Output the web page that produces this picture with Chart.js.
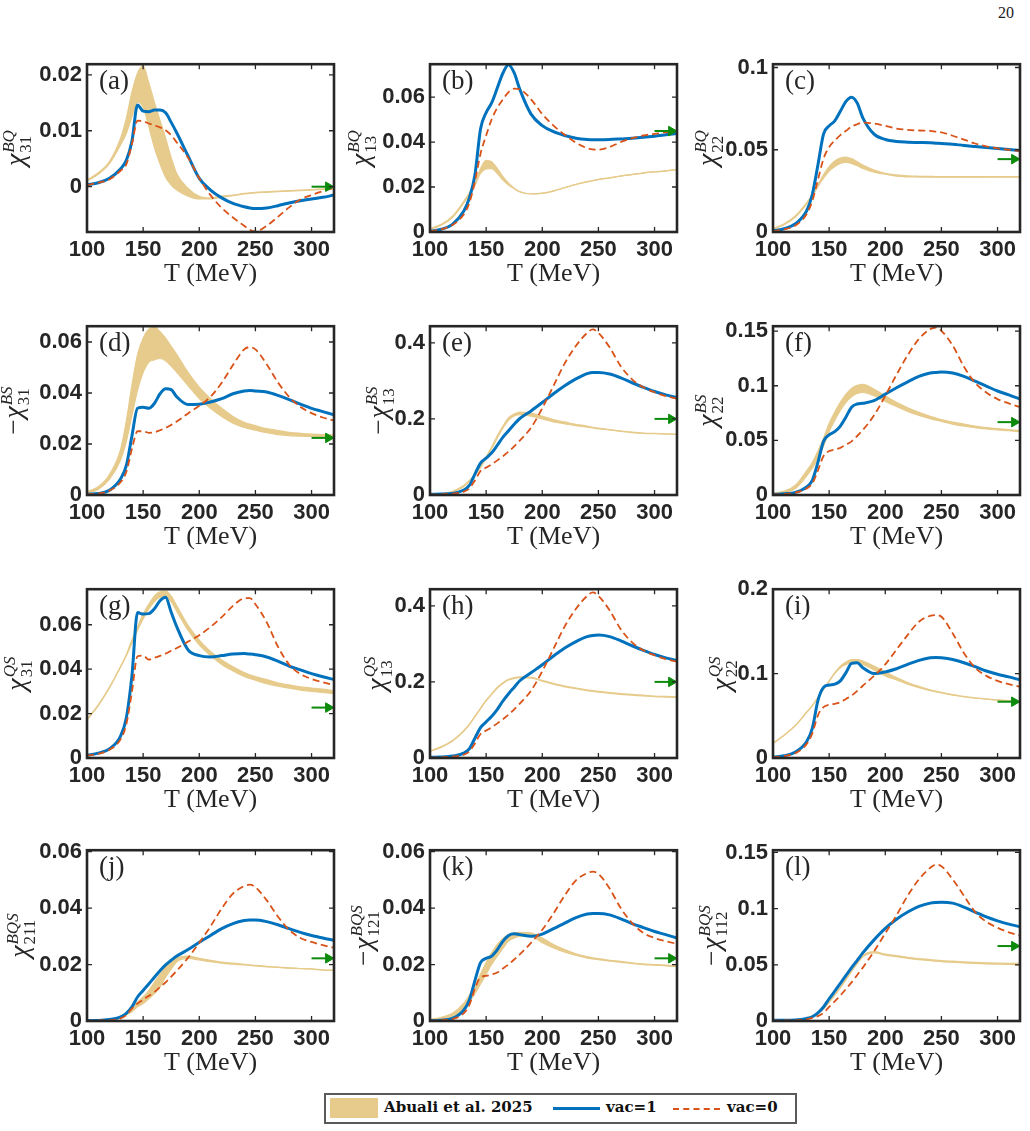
<!DOCTYPE html>
<html>
<head>
<meta charset="utf-8">
<script src="https://cdn.jsdelivr.net/npm/chart.js@4.4.1/dist/chart.umd.min.js"></script>
<style>
  body { margin: 0; background: #fff; }
  #page { position: relative; width: 1030px; height: 1131px; background: #fff; overflow: hidden; }
  #page canvas { position: absolute; }
  #pageno { position: absolute; left: 998px; top: 4px; font: 16px 'Liberation Serif', serif; color: #222; }
  #legend { position: absolute; left: 324px; top: 1093px; width: 469px; height: 27px; border: 2px solid #5a5a5a; background: #fff; }
  #legend span { position: absolute; }
  #legend .txt { top: 3px; font: bold 15px 'DejaVu Serif', serif; color: #111; white-space: nowrap; }
</style>
</head>
<body>
<div id="page">
  <div id="pageno">20</div>
  <div id="legend">
    <span style="left:4px;top:3px;width:48px;height:20px;background:#E6CB8C"></span>
    <span class="txt" style="left:58px">Abuali et al. 2025</span>
    <span style="left:227px;top:12px;width:47px;border-top:3px solid #0072BD"></span>
    <span class="txt" style="left:280px">vac=1</span>
    <span style="left:347px;top:13px;width:47px;border-top:2px dashed #D95319"></span>
    <span class="txt" style="left:401px">vac=0</span>
  </div>
</div>
<script>
// temperature grid (MeV) and tick labels
const T = [100,110,120,130, 135,140,145,150,155, 160,165,170,175,180, 190,200,210,220,230, 240,245,250,260,270, 280,290,300,310,320];
const xTicks = [100, 150, 200, 250, 300];

// (a) chi31^BQ
const bandHiA = [0.0012,0.0025,0.0045,0.0087, 0.0122,0.0169,0.0203,0.0216,0.0186, 0.0151,0.0119,0.0087,0.0052,0.0023, -0.0003,-0.0017,-0.002,-0.0017,-0.0015, -0.0012,-0.0011,-0.001,-0.0009,-0.0008, -0.0007,-0.0006,-0.0005,-0.0004,-0.0003];
const bandLoA = [0.001,0.0022,0.0041,0.0075, 0.0095,0.0125,0.0151,0.0142,0.0108, 0.007,0.0041,0.0017,0.0003,-0.0006, -0.0017,-0.0022,-0.0022,-0.0019,-0.0016, -0.0013,-0.0012,-0.0011,-0.001,-0.0009, -0.0008,-0.0007,-0.0006,-0.0005,-0.0004];
const vac1A = [0.0003,0.0007,0.0015,0.0032, 0.0047,0.0081,0.0146,0.0135,0.0134, 0.0137,0.0137,0.0132,0.0115,0.0096, 0.0055,0.0015,-0.0006,-0.002,-0.003, -0.0036,-0.0038,-0.0039,-0.0038,-0.0034, -0.0029,-0.0025,-0.0022,-0.0019,-0.0015];
const vac0A = [0.0003,0.0007,0.0013,0.0029, 0.004,0.0076,0.0118,0.0117,0.0113, 0.011,0.0106,0.0101,0.0092,0.0079, 0.0052,0.0015,-0.0015,-0.0038,-0.0055, -0.007,-0.0077,-0.008,-0.007,-0.0054, -0.0037,-0.0023,-0.0015,-0.0008,-0.0002];

// (b) chi13^BQ
const bandHiB = [0.0016,0.0034,0.007,0.0136, 0.0173,0.0217,0.0282,0.0319,0.0312, 0.0282,0.0246,0.0217,0.0195,0.018, 0.017,0.0173,0.0183,0.0198,0.0212, 0.0224,0.0229,0.0234,0.0241,0.0249, 0.0256,0.0263,0.0268,0.0272,0.0278];
const bandLoB = [0.0012,0.003,0.0064,0.0128, 0.0164,0.0206,0.026,0.028,0.0282, 0.026,0.0231,0.0209,0.0192,0.0178, 0.0169,0.0172,0.0182,0.0197,0.0211, 0.0223,0.0228,0.0233,0.024,0.0248, 0.0255,0.0262,0.0267,0.0271,0.0277];
const vac1B = [0.0004,0.0012,0.0034,0.0092, 0.015,0.0253,0.0458,0.0531,0.0575, 0.0641,0.0707,0.0743,0.0707,0.0634, 0.0524,0.0473,0.0446,0.0429,0.0417, 0.0411,0.041,0.041,0.0411,0.0414, 0.0417,0.0421,0.0426,0.0432,0.0438];
const vac0B = [0.0004,0.0012,0.0031,0.0078, 0.0129,0.0224,0.0348,0.0429,0.0502, 0.0553,0.059,0.0622,0.0637,0.0634, 0.059,0.0524,0.0473,0.0432,0.0397, 0.0373,0.0367,0.0366,0.0378,0.04, 0.0417,0.0429,0.0436,0.0443,0.0449];

// (c) chi22^BQ
const bandHiC = [0.002,0.005,0.0099,0.0179, 0.0228,0.0288,0.0347,0.0397,0.0431, 0.045,0.0456,0.0446,0.0427,0.0407, 0.0377,0.0357,0.0347,0.0341,0.0339, 0.0338,0.0337,0.0337,0.0337,0.0337, 0.0337,0.0337,0.0337,0.0337,0.0337];
const bandLoC = [0.0016,0.0044,0.0091,0.0169, 0.0216,0.0276,0.0327,0.0371,0.0397, 0.0417,0.0423,0.0417,0.0403,0.0387, 0.0363,0.0351,0.0339,0.0335,0.0334, 0.0333,0.0333,0.0333,0.0333,0.0333, 0.0333,0.0333,0.0334,0.0334,0.0334];
const vac1C = [0.0006,0.002,0.005,0.0129, 0.0228,0.0407,0.0595,0.0645,0.0675, 0.0734,0.0794,0.0819,0.0784,0.0694, 0.0595,0.0562,0.055,0.0546,0.0544, 0.0542,0.054,0.0538,0.0534,0.0526, 0.052,0.0514,0.0508,0.0502,0.0496];
const vac0C = [0.0006,0.0016,0.004,0.0109, 0.0188,0.0317,0.0446,0.0516,0.0556, 0.0589,0.0615,0.0641,0.0655,0.0665, 0.0659,0.0645,0.0629,0.0621,0.0617, 0.0615,0.061,0.0605,0.0585,0.0562, 0.0538,0.052,0.0508,0.05,0.0492];

// (d) -chi31^BS
const bandHiD = [0.0013,0.0032,0.008,0.018, 0.029,0.043,0.055,0.0615,0.065, 0.0658,0.0641,0.0615,0.0583,0.0551, 0.0481,0.0423,0.0378,0.034,0.0308, 0.0285,0.0278,0.0272,0.026,0.0253, 0.0246,0.0242,0.0239,0.0237,0.0236];
const bandLoD = [0.0008,0.0022,0.0062,0.0138, 0.021,0.031,0.041,0.048,0.052, 0.053,0.0536,0.0526,0.0506,0.0481, 0.0429,0.0378,0.034,0.0308,0.0282, 0.0265,0.0259,0.0254,0.0244,0.0237, 0.0233,0.0231,0.023,0.0229,0.0227];
const vac1D = [0.0003,0.0006,0.0019,0.0064, 0.0115,0.0231,0.034,0.0344,0.034, 0.0359,0.0397,0.0417,0.0413,0.0385, 0.0355,0.0356,0.0365,0.0378,0.0397, 0.0408,0.041,0.0408,0.0404,0.0391, 0.0374,0.0356,0.034,0.0327,0.0314];
const vac0D = [0.0003,0.0006,0.0017,0.0051, 0.009,0.018,0.025,0.025,0.0244, 0.0246,0.0254,0.0263,0.0275,0.0288, 0.032,0.035,0.0385,0.044,0.051, 0.0571,0.058,0.0571,0.0513,0.0442, 0.0385,0.0346,0.0321,0.0304,0.0292];

// (e) -chi13^BS
const bandHiE = [0.002,0.004,0.01,0.025, 0.038,0.055,0.076,0.101,0.127, 0.156,0.181,0.203,0.213,0.218, 0.215,0.207,0.198,0.192,0.186, 0.181,0.178,0.176,0.172,0.168, 0.165,0.163,0.162,0.161,0.16];
const bandLoE = [0.001,0.0025,0.008,0.022, 0.035,0.052,0.072,0.097,0.122, 0.15,0.176,0.197,0.208,0.211, 0.207,0.2,0.192,0.187,0.182, 0.178,0.176,0.174,0.171,0.167, 0.164,0.162,0.161,0.16,0.159];
const vac1E = [0.002,0.0025,0.004,0.013, 0.025,0.055,0.084,0.097,0.111, 0.131,0.152,0.169,0.186,0.201, 0.221,0.243,0.266,0.287,0.305, 0.319,0.322,0.322,0.318,0.308, 0.295,0.283,0.272,0.263,0.256];
const vac0E = [0.001,0.0017,0.0034,0.0085, 0.017,0.038,0.063,0.072,0.081, 0.091,0.102,0.114,0.128,0.143, 0.177,0.228,0.287,0.346,0.392, 0.426,0.435,0.426,0.388,0.338, 0.304,0.283,0.27,0.26,0.253];

// (f) chi22^BS
const bandHiF = [0.0015,0.0036,0.0089,0.0223, 0.0298,0.0402,0.0521,0.0655,0.0759, 0.0848,0.0923,0.0976,0.1003,0.1012, 0.0967,0.0908,0.0848,0.0798,0.0756, 0.072,0.0705,0.069,0.0667,0.0649, 0.0631,0.0616,0.0607,0.0598,0.0589];
const bandLoF = [0.0009,0.0022,0.006,0.0175, 0.0245,0.0335,0.0446,0.058,0.0685, 0.0774,0.0848,0.0899,0.0929,0.0938, 0.0908,0.0857,0.081,0.0765,0.0729, 0.0699,0.0686,0.0673,0.0649,0.0631, 0.0616,0.0604,0.0595,0.0588,0.058];
const vac1F = [0.0006,0.0012,0.0024,0.0074, 0.0134,0.0298,0.0491,0.0551,0.058, 0.0631,0.0714,0.0804,0.0833,0.0839, 0.0863,0.0923,0.0982,0.1036,0.1086, 0.1116,0.1122,0.1125,0.1116,0.1086, 0.1042,0.0997,0.0952,0.0917,0.0878];
const vac0F = [0.0003,0.0009,0.0021,0.006, 0.0104,0.0223,0.0357,0.0402,0.0415, 0.0432,0.046,0.0491,0.054,0.0595, 0.0729,0.0908,0.1101,0.128,0.1429, 0.1518,0.1533,0.1503,0.1369,0.1176, 0.1027,0.0938,0.0878,0.0839,0.0804];

// (g) chi31^QS
const bandHiG = [0.0175,0.0239,0.0319,0.0414, 0.0465,0.0531,0.059,0.0648,0.0692, 0.0729,0.0748,0.0751,0.0729,0.0685, 0.0597,0.0531,0.048,0.0441,0.0411, 0.0385,0.0375,0.0367,0.0353,0.0338, 0.0329,0.032,0.0315,0.031,0.0304];
const bandLoG = [0.0171,0.0235,0.0315,0.041, 0.046,0.0517,0.0575,0.0626,0.067, 0.0704,0.0722,0.0722,0.0704,0.066, 0.0575,0.0509,0.0461,0.0421,0.0392, 0.0367,0.0358,0.035,0.0335,0.0323, 0.0315,0.0306,0.03,0.0295,0.029];
const vac1G = [0.0012,0.0022,0.0041,0.01, 0.018,0.037,0.0655,0.0648,0.065, 0.0672,0.0708,0.0724,0.0656,0.059, 0.0487,0.0461,0.0455,0.0461,0.0468, 0.047,0.0468,0.0465,0.0455,0.0436, 0.0414,0.0397,0.038,0.0366,0.0353];
const vac0G = [0.0011,0.0019,0.0037,0.0085, 0.0151,0.0297,0.0458,0.0461,0.0443, 0.0451,0.046,0.047,0.0483,0.0495, 0.0524,0.0553,0.059,0.0634,0.0685, 0.0719,0.072,0.0692,0.0612,0.0502, 0.0421,0.0378,0.0356,0.0341,0.0329];

// (h) chi13^QS
const bandHiH = [0.0186,0.03,0.046,0.072, 0.089,0.11,0.131,0.152,0.169, 0.186,0.198,0.207,0.211,0.213, 0.212,0.204,0.196,0.189,0.184, 0.179,0.177,0.175,0.172,0.169, 0.167,0.165,0.163,0.162,0.161];
const bandLoH = [0.0168,0.028,0.044,0.07, 0.087,0.108,0.129,0.15,0.167, 0.184,0.196,0.205,0.209,0.211, 0.21,0.202,0.194,0.187,0.182, 0.177,0.175,0.173,0.17,0.167, 0.165,0.163,0.161,0.16,0.159];
const vac1H = [0.002,0.0025,0.005,0.013, 0.024,0.052,0.08,0.095,0.11, 0.128,0.15,0.169,0.186,0.203, 0.224,0.245,0.268,0.289,0.306, 0.319,0.322,0.323,0.319,0.308, 0.295,0.283,0.272,0.263,0.256];
const vac0H = [0.001,0.0017,0.0034,0.0085, 0.017,0.038,0.063,0.072,0.081, 0.091,0.102,0.114,0.128,0.143, 0.177,0.228,0.287,0.346,0.392, 0.426,0.435,0.426,0.388,0.338, 0.304,0.283,0.27,0.26,0.253];

// (i) chi22^QS
const bandHiI = [0.0175,0.0272,0.0389,0.0545, 0.0623,0.072,0.0817,0.0914,0.1012, 0.1089,0.1136,0.1167,0.1167,0.1148, 0.1089,0.102,0.0953,0.0895,0.0848, 0.0809,0.0793,0.0778,0.075,0.073, 0.0712,0.07,0.0689,0.0681,0.0673];
const bandLoI = [0.0171,0.0268,0.0385,0.054, 0.0618,0.0715,0.0812,0.0909,0.1, 0.107,0.1109,0.1128,0.1128,0.1109, 0.1043,0.0973,0.0926,0.0875,0.0833, 0.0798,0.0784,0.077,0.0744,0.0725, 0.0708,0.0696,0.0685,0.0677,0.0669];
const vac1I = [0.0012,0.0027,0.007,0.0195, 0.035,0.068,0.0837,0.0864,0.0875, 0.0914,0.1012,0.1121,0.1128,0.107, 0.1,0.102,0.1058,0.1109,0.1156, 0.1187,0.119,0.1187,0.1167,0.1128, 0.1082,0.1031,0.0992,0.0961,0.0926];
const vac0I = [0.0008,0.0023,0.0058,0.0167, 0.0292,0.0506,0.0603,0.063,0.0642, 0.0661,0.07,0.0739,0.0795,0.0856, 0.0973,0.1109,0.1284,0.1459,0.1615, 0.1685,0.1693,0.1673,0.1479,0.1245, 0.107,0.0973,0.0914,0.0875,0.0844];

// (j) chi211^BQS
const bandHiJ = [0.0002,0.0004,0.0006,0.0015, 0.0027,0.0044,0.0067,0.0085,0.0108, 0.0137,0.0166,0.0195,0.0213,0.0224, 0.023,0.0222,0.0215,0.0209,0.0205, 0.0201,0.0199,0.0197,0.0194,0.0191, 0.0188,0.0186,0.0185,0.0181,0.018];
const bandLoJ = [0.0001,0.0002,0.0003,0.0009, 0.0021,0.0033,0.005,0.0062,0.0079, 0.0097,0.012,0.0155,0.0184,0.021, 0.0222,0.0216,0.021,0.0205,0.0201, 0.0199,0.0197,0.0195,0.0192,0.019, 0.0187,0.0185,0.0184,0.018,0.0179];
const vac1J = [0.0002,0.0002,0.0005,0.0015, 0.0027,0.005,0.0085,0.0108,0.0131, 0.0155,0.0178,0.0199,0.0215,0.023, 0.0253,0.0279,0.0303,0.0327,0.0345, 0.0356,0.0358,0.0358,0.0352,0.0341, 0.0327,0.0314,0.0303,0.0294,0.0286];
const vac0J = [0.0001,0.0002,0.0003,0.0009, 0.0021,0.0044,0.0062,0.0076,0.0089, 0.0102,0.012,0.0137,0.0157,0.0178, 0.0224,0.0277,0.0335,0.0399,0.0451, 0.0478,0.0483,0.0474,0.0428,0.037, 0.0323,0.0294,0.028,0.0269,0.0259];

// (k) -chi121^BQS
const bandHiK = [0.0006,0.0013,0.0027,0.0062, 0.0091,0.0126,0.0166,0.0207,0.0242, 0.0271,0.0292,0.0306,0.0312,0.0314, 0.0312,0.0294,0.0271,0.0253,0.0238, 0.0228,0.0224,0.0221,0.0215,0.0211, 0.0206,0.0202,0.02,0.0198,0.0195];
const bandLoK = [0.0002,0.0006,0.0015,0.0044, 0.0067,0.0097,0.0131,0.0166,0.0201, 0.023,0.0257,0.0283,0.0294,0.03, 0.03,0.0277,0.0259,0.0244,0.0233, 0.0223,0.022,0.0217,0.0212,0.0208, 0.0204,0.02,0.0198,0.0195,0.0193];
const vac1K = [0.0002,0.0003,0.0009,0.0038, 0.0073,0.0143,0.0207,0.0222,0.023, 0.0253,0.0283,0.0303,0.0309,0.0306, 0.03,0.0308,0.0327,0.0347,0.0366, 0.0379,0.0381,0.0381,0.0376,0.0362, 0.0345,0.0331,0.0317,0.0306,0.0294];
const vac0K = [0.0001,0.0003,0.0007,0.0027, 0.0056,0.0114,0.0155,0.016,0.0165, 0.0172,0.0186,0.0201,0.0218,0.0236, 0.0277,0.0323,0.0381,0.0445,0.0498, 0.0524,0.0529,0.0521,0.0469,0.0399, 0.0347,0.0312,0.0294,0.0283,0.0273];

// (l) -chi112^BQS
const bandHiL = [0.0004,0.0006,0.0012,0.0025, 0.0045,0.0072,0.0116,0.0174,0.0237, 0.0305,0.0376,0.0451,0.0518,0.0582, 0.0617,0.0596,0.0582,0.0567,0.0556, 0.0547,0.0542,0.0538,0.0532,0.0527, 0.0522,0.0518,0.0515,0.0513,0.0512];
const bandLoL = [0.0002,0.0004,0.0008,0.0018, 0.0035,0.0062,0.0106,0.0164,0.0227, 0.0295,0.0366,0.0441,0.0508,0.0572, 0.0607,0.0586,0.0572,0.0557,0.0546, 0.0537,0.0532,0.0528,0.0522,0.0517, 0.0512,0.0508,0.0505,0.0503,0.0502];
const vac1L = [0.0006,0.0006,0.0009,0.0023, 0.0038,0.0073,0.0125,0.0198,0.0265, 0.0335,0.0405,0.0475,0.054,0.0606, 0.0722,0.0824,0.0906,0.097,0.102, 0.1049,0.1055,0.1057,0.1049,0.1014, 0.097,0.0926,0.0891,0.0862,0.0839];
const vac0L = [0.0003,0.0005,0.0006,0.0015, 0.0028,0.0044,0.0073,0.0125,0.0175, 0.0227,0.0285,0.0344,0.041,0.0475, 0.062,0.0781,0.0941,0.1116,0.1261, 0.1363,0.1392,0.1378,0.1261,0.1116, 0.097,0.0883,0.083,0.0789,0.076];

// high-T limits (green arrows), one per panel a..l
const limits = [0, 0.0449, 0.0443, 0.0224, 0.2, 0.0667, 0.0227, 0.2, 0.0667, 0.0222, 0.0222, 0.0667];

// y-axis tick labels
const yTicksA = [0, 0.01, 0.02];
const yTicks2 = [0, 0.02, 0.04, 0.06];
const yTicks5 = [0, 0.05, 0.1];
const yTicks5b = [0, 0.05, 0.1, 0.15];
const yTicks24 = [0, 0.2, 0.4];
const yTicks12 = [0, 0.1, 0.2];

const blue = '#0072BD', orange = '#D95319', tan = '#E6CB8C', green = '#0B8A0B', ink = '#262626';

const panels = [
  { tag: 'a', hi: bandHiA, lo: bandLoA, v1: vac1A, v0: vac0A, min: -0.0081, max: 0.0219, ticks: yTicksA, neg: false, sup: 'BQ', sub: '31', dx: -68 },
  { tag: 'b', hi: bandHiB, lo: bandLoB, v1: vac1B, v0: vac0B, min: 0, max: 0.0746, ticks: yTicks2, neg: false, sup: 'BQ', sub: '13', dx: -66 },
  { tag: 'c', hi: bandHiC, lo: bandLoC, v1: vac1C, v0: vac0C, min: 0, max: 0.102, ticks: yTicks5, neg: false, sup: 'BQ', sub: '22', dx: -62 },
  { tag: 'd', hi: bandHiD, lo: bandLoD, v1: vac1D, v0: vac0D, min: 0, max: 0.0662, ticks: yTicks2, neg: true, sup: 'BS', sub: '31', dx: -70 },
  { tag: 'e', hi: bandHiE, lo: bandLoE, v1: vac1E, v0: vac0E, min: 0, max: 0.4436, ticks: yTicks24, neg: true, sup: 'BS', sub: '13', dx: -48 },
  { tag: 'f', hi: bandHiF, lo: bandLoF, v1: vac1F, v0: vac0F, min: 0, max: 0.1545, ticks: yTicks5b, neg: false, sup: 'BS', sub: '22', dx: -62 },
  { tag: 'g', hi: bandHiG, lo: bandLoG, v1: vac1G, v0: vac0G, min: 0, max: 0.076, ticks: yTicks2, neg: false, sup: 'QS', sub: '31', dx: -67 },
  { tag: 'h', hi: bandHiH, lo: bandLoH, v1: vac1H, v0: vac0H, min: 0, max: 0.4436, ticks: yTicks24, neg: false, sup: 'QS', sub: '13', dx: -50 },
  { tag: 'i', hi: bandHiI, lo: bandLoI, v1: vac1I, v0: vac0I, min: 0, max: 0.2, ticks: yTicks12, neg: false, sup: 'QS', sub: '22', dx: -48 },
  { tag: 'j', hi: bandHiJ, lo: bandLoJ, v1: vac1J, v0: vac0J, min: 0, max: 0.0605, ticks: yTicks2, neg: false, sup: 'BQS', sub: '211', dx: -64 },
  { tag: 'k', hi: bandHiK, lo: bandLoK, v1: vac1K, v0: vac0K, min: 0, max: 0.0605, ticks: yTicks2, neg: true, sup: 'BQS', sub: '121', dx: -63 },
  { tag: 'l', hi: bandHiL, lo: bandLoL, v1: vac1L, v0: vac0L, min: 0, max: 0.152, ticks: yTicks5b, neg: true, sup: 'BQS', sub: '112', dx: -58 }
];

// page layout of the plot boxes
const colLefts = [0, 343, 686];           // canvas left; plot starts 87px in
const rowTops = [61, 323, 586, 847];
const rowBottoms = [232, 495, 758, 1021];

const tickFont = { family: "'Liberation Sans', Arial, sans-serif", size: 22, weight: 'bold' };
const titleFont = { family: "'Liberation Serif', serif", size: 26 };

function drawYTitle(ctx, cx, cy, p) {
  ctx.save();
  ctx.translate(cx, cy);
  ctx.rotate(-Math.PI / 2);
  ctx.fillStyle = ink;
  ctx.textBaseline = 'alphabetic';
  const fMinus = "27px 'Liberation Serif'";
  const fMain = "italic 28px 'Liberation Serif'";
  const fSup = "italic 17px 'Liberation Serif'";
  const fSub = "17px 'Liberation Serif'";
  ctx.font = fMinus; const wm = p.neg ? ctx.measureText('\u2212').width + 1 : 0;
  ctx.font = fMain; const wc = ctx.measureText('\u03C7').width;
  ctx.font = fSup; const ws = ctx.measureText(p.sup).width;
  ctx.font = fSub; const wb = ctx.measureText(p.sub).width;
  let u = -(wm + wc + 1 + Math.max(ws, wb)) / 2;
  const base = 5;
  if (p.neg) { ctx.font = fMinus; ctx.fillText('\u2212', u, base); u += wm; }
  ctx.font = fMain; ctx.fillText('\u03C7', u, base); u += wc + 1;
  ctx.font = fSup; ctx.fillText(p.sup, u, base - 10);
  ctx.font = fSub; ctx.fillText(p.sub, u, base + 7);
  ctx.restore();
}

const page = document.getElementById('page');

panels.forEach((p, i) => {
  const col = i % 3, row = Math.floor(i / 3);
  const top = rowTops[row], bottom = rowBottoms[row];
  const canvas = document.createElement('canvas');
  canvas.width = 343;
  canvas.height = 15 + (bottom - top) + 58;
  canvas.style.left = colLefts[col] + 'px';
  canvas.style.top = (top - 15) + 'px';
  page.appendChild(canvas);

  const pts = arr => T.map((t, k) => ({ x: t, y: arr[k] }));
  const limit = limits[i];

  const frame = {
    id: 'frame' + i,
    afterDraw(chart) {
      const { ctx, chartArea: a, scales } = chart;
      ctx.save();
      ctx.strokeStyle = ink;
      ctx.lineWidth = 1.3;
      ctx.beginPath();
      xTicks.forEach(v => {
        const x = scales.x.getPixelForValue(v);
        ctx.moveTo(x, a.bottom); ctx.lineTo(x, a.bottom - 5);
        ctx.moveTo(x, a.top); ctx.lineTo(x, a.top + 5);
      });
      p.ticks.forEach(v => {
        const y = scales.y.getPixelForValue(v);
        ctx.moveTo(a.left, y); ctx.lineTo(a.left + 5, y);
        ctx.moveTo(a.right, y); ctx.lineTo(a.right - 5, y);
      });
      ctx.stroke();
      ctx.lineWidth = 2.6;
      ctx.strokeRect(a.left, a.top, a.right - a.left, a.bottom - a.top);
      ctx.fillStyle = ink;
      ctx.font = "27px 'Liberation Serif'";
      ctx.textBaseline = 'middle';
      ctx.textAlign = 'left';
      ctx.fillText('(' + p.tag + ')', a.left + 12, a.top + 18);
      ctx.restore();
      drawYTitle(ctx, a.left + p.dx, (a.top + a.bottom) / 2, p);
    }
  };

  new Chart(canvas.getContext('2d'), {
    type: 'line',
    data: {
      datasets: [
        { label: 'limit', data: [{ x: 300, y: limit }, { x: 315, y: limit }],
          borderColor: green, backgroundColor: green, borderWidth: 2,
          pointRadius: [0, 5.5], pointStyle: 'triangle', rotation: 90, pointBorderWidth: 1, clip: false },
        { label: 'vac=0', data: pts(p.v0), borderColor: orange, borderWidth: 1.8, borderDash: [7, 4],
          pointRadius: 0, fill: false, cubicInterpolationMode: 'monotone' },
        { label: 'vac=1', data: pts(p.v1), borderColor: blue, borderWidth: 3,
          pointRadius: 0, fill: false, cubicInterpolationMode: 'monotone' },
        { label: 'Abuali et al. 2025', data: pts(p.hi), borderColor: tan, backgroundColor: tan, borderWidth: 1.2,
          pointRadius: 0, fill: '+1', cubicInterpolationMode: 'monotone' },
        { label: 'Abuali low', data: pts(p.lo), borderColor: tan, borderWidth: 1.2,
          pointRadius: 0, fill: false, cubicInterpolationMode: 'monotone' }
      ]
    },
    options: {
      responsive: false,
      animation: false,
      events: [],
      layout: { padding: { top: 15, right: 9, left: 0, bottom: 0 } },
      plugins: { legend: { display: false }, tooltip: { enabled: false } },
      scales: {
        x: {
          type: 'linear', min: 100, max: 320,
          afterBuildTicks: s => { s.ticks = xTicks.map(v => ({ value: v })); },
          afterFit: s => { s.height = 58; },
          grid: { display: false, drawTicks: false },
          border: { display: false },
          ticks: { padding: 5, font: tickFont, color: ink, maxRotation: 0, callback: v => String(v) },
          title: { display: true, text: 'T (MeV)', font: titleFont, color: ink, padding: 0 }
        },
        y: {
          type: 'linear', min: p.min, max: p.max,
          afterBuildTicks: s => { s.ticks = p.ticks.map(v => ({ value: v })); },
          afterFit: s => { s.width = 87; },
          grid: { display: false, drawTicks: false },
          border: { display: false },
          ticks: { padding: 5, font: tickFont, color: ink, callback: v => String(v) }
        }
      }
    },
    plugins: [frame]
  });
});
</script>
</body>
</html>
